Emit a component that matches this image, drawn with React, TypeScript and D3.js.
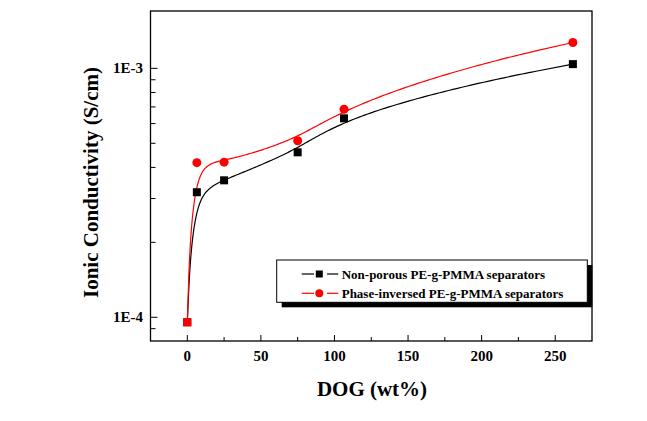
import React from "react";
import * as d3 from "d3";

const dog = [0, 6.5, 25, 75, 106.5, 262];
const nonPorous = [9.55e-5, 3.18e-4, 3.55e-4, 4.6e-4, 6.3e-4, 1.04e-3];
const phaseInversed = [9.55e-5, 4.18e-4, 4.2e-4, 5.12e-4, 6.85e-4, 1.27e-3];
const seriesNames = ["Non-porous PE-g-PMMA separators", "Phase-inversed PE-g-PMMA separators"];
const seriesColors = ["#000000", "#ff0000"];
const xTicks = [0, 50, 100, 150, 200, 250];
const xMinorTicks = [25, 75, 125, 175, 225];
const yTicks = [1e-4, 1e-3];
const yTickLabels = ["1E-4", "1E-3"];
const yMinorTicks = [9e-5, 2e-4, 3e-4, 4e-4, 5e-4, 6e-4, 7e-4, 8e-4, 9e-4];

const W = 647, H = 421;
const L = 150.5, R = 592, T = 11, B = 341;
const FONT = "Liberation Serif, Times New Roman, Times, DejaVu Serif, serif";

const xs = d3.scaleLinear().domain([-25, 275]).range([L, R]);
const ys = d3.scaleLog().domain([8.03e-5, 1.7e-3]).range([B, T]);

function splinePath(xv: number[], yv: number[]): string {
  const out: [number, number][] = [];
  let cx = 0, cy = 0;
  const ctx: any = {
    beginPath() {},
    closePath() {},
    moveTo(x: number, y: number) { out.push([x, y]); cx = x; cy = y; },
    lineTo(x: number, y: number) { out.push([x, y]); cx = x; cy = y; },
    bezierCurveTo(x1: number, y1: number, x2: number, y2: number, x: number, y: number) {
      const N = 40;
      for (let i = 1; i <= N; i++) {
        const t = i / N, u = 1 - t;
        const px = u * u * u * cx + 3 * u * u * t * x1 + 3 * u * t * t * x2 + t * t * t * x;
        const py = u * u * u * cy + 3 * u * u * t * y1 + 3 * u * t * t * y2 + t * t * t * y;
        out.push([px, py]);
      }
      cx = x; cy = y;
    },
  };
  const pts: [number, number][] = xv.map((x, i) => [x, yv[i]]);
  d3.line().curve(d3.curveBasis).context(ctx)(pts);
  return d3.line()(out.map(([a, b]) => [xs(a), ys(b)] as [number, number])) || "";
}

const txt = (size: number): React.CSSProperties => ({ fontFamily: FONT, fontWeight: 700, fontSize: size });

export default function App() {
  const series = [nonPorous, phaseInversed];
  const legX0 = 276.7, legY0 = 260, legW = 310.6, legH = 42.3;
  const rows = [274, 293.3];
  return (
    <div style={{ position: "absolute", left: 0, top: 0 }}>
      <svg width={W} height={H} style={{ display: "block", background: "#fff" }}>
        <rect x={0} y={0} width={W} height={H} fill="#fff" />
        {series.map((s, i) => (
          <path key={"c" + i} d={splinePath(dog, s)} fill="none" stroke={seriesColors[i]} strokeWidth={1.2} />
        ))}
        {nonPorous.map((v, i) => (
          <rect key={"s" + i} x={xs(dog[i]) - 4} y={ys(v) - 4} width={8} height={8} fill={seriesColors[0]} />
        ))}
        {phaseInversed.map((v, i) =>
          v === nonPorous[i] ? (
            <rect key={"r" + i} x={xs(dog[i]) - 4} y={ys(v) - 4} width={8} height={8} fill={seriesColors[1]} />
          ) : (
            <circle key={"r" + i} cx={xs(dog[i])} cy={ys(v)} r={4.5} fill={seriesColors[1]} />
          )
        )}
        <rect x={L} y={T} width={R - L} height={B - T} fill="none" stroke="#000" strokeWidth={1.3} />
        {xTicks.map((t) => (
          <g key={"xt" + t}>
            <line x1={xs(t)} x2={xs(t)} y1={B} y2={B - 6} stroke="#000" strokeWidth={1} />
            <text x={xs(t)} y={361} textAnchor="middle" style={txt(15)}>{t}</text>
          </g>
        ))}
        {xMinorTicks.map((t) => (
          <line key={"xm" + t} x1={xs(t)} x2={xs(t)} y1={B} y2={B - 4} stroke="#000" strokeWidth={1} />
        ))}
        {yTicks.map((t, i) => (
          <g key={"yt" + i}>
            <line x1={L} x2={L + 7} y1={ys(t)} y2={ys(t)} stroke="#000" strokeWidth={1} />
            <text x={L - 7.5} y={ys(t) + 5} textAnchor="end" style={txt(15)}>{yTickLabels[i]}</text>
          </g>
        ))}
        {yMinorTicks.map((t, i) => (
          <line key={"ym" + i} x1={L} x2={L + 5} y1={ys(t)} y2={ys(t)} stroke="#000" strokeWidth={1} />
        ))}
        <text x={372} y={396} textAnchor="middle" style={txt(21)}>DOG (wt%)</text>
        <text transform={`translate(97.5,182.5) rotate(-90)`} textAnchor="middle" style={txt(21)}>Ionic Conductivity (S/cm)</text>
        <rect x={legX0 + 5} y={legY0 + 5} width={legW} height={legH} fill="#000" />
        <rect x={legX0} y={legY0} width={legW} height={legH} fill="#fff" stroke="#000" strokeWidth={1} />
        {seriesNames.map((name, i) => (
          <g key={"lg" + i}>
            <line x1={301.7} x2={314} y1={rows[i]} y2={rows[i]} stroke={seriesColors[i]} strokeWidth={1.2} />
            <line x1={327} x2={338.3} y1={rows[i]} y2={rows[i]} stroke={seriesColors[i]} strokeWidth={1.2} />
            {i === 0 ? (
              <rect x={319.3 - 3.5} y={rows[i] - 3.5} width={7} height={7} fill={seriesColors[i]} />
            ) : (
              <circle cx={319.3} cy={rows[i]} r={4} fill={seriesColors[i]} />
            )}
            <text x={341.7} y={rows[i] + 4.5} style={txt(13)}>{name}</text>
          </g>
        ))}
      </svg>
    </div>
  );
}
